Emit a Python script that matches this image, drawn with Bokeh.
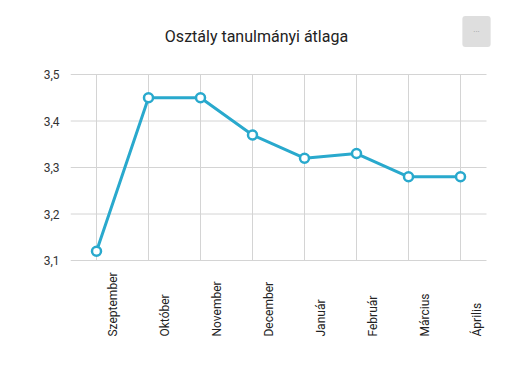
import math
from bokeh.plotting import figure
from bokeh.models import Range1d, FixedTicker, Label
from bokeh.embed import file_html
from bokeh.resources import INLINE

title_text = "Osztály tanulmányi átlaga"
months = ["Szeptember", "Október", "November", "December",
          "Január", "Február", "Március", "Április"]
averages = [3.12, 3.45, 3.45, 3.37, 3.32, 3.33, 3.28, 3.28]
y_ticks = [3.1, 3.2, 3.3, 3.4, 3.5]
y_tick_labels = ["3,1", "3,2", "3,3", "3,4", "3,5"]

FONT = "Roboto"
LINE_COLOR = "#29a9cd"
GRID_COLOR = "#d4d4d4"

# layout (pixels in the 496x355 canvas)
W, H = 496, 355
FL, FR, FT, FB = 70, 496, 10, 342          # frame edges
Y_TOP_PX, Y_BOT_PX = 74, 260               # where y_ticks[-1], y_ticks[0] sit
CAT_W = 52                                 # pixels per category

ppu = (Y_BOT_PX - Y_TOP_PX) / (y_ticks[-1] - y_ticks[0])
y_hi = y_ticks[-1] + (Y_TOP_PX - FT) / ppu
y_lo = y_ticks[0] - (FB - Y_BOT_PX) / ppu
x_hi = (FR - FL) / CAT_W


def px_x(px):
    return (px - FL) / CAT_W


def px_y(py):
    return y_ticks[-1] - (py - Y_TOP_PX) / ppu


n = len(months)
xs = [i + 0.5 for i in range(n)]

p = figure(width=W, height=H, output_backend="svg", toolbar_location=None,
           x_range=Range1d(0, x_hi), y_range=Range1d(y_lo, y_hi),
           min_border_left=FL, min_border_right=W - FR, min_border_top=FT,
           min_border_bottom=H - FB)
p.outline_line_color = None
p.background_fill_color = "white"
p.border_fill_color = "white"

p.xaxis.visible = False
p.xgrid.visible = False
p.ygrid.visible = False

ya = p.yaxis[0]
ya.ticker = FixedTicker(ticks=y_ticks)
ya.major_label_overrides = {t: l for t, l in zip(y_ticks, y_tick_labels)}
ya.axis_line_color = None
ya.major_tick_line_color = None
ya.minor_tick_line_color = None
ya.major_tick_out = 0
ya.major_label_standoff = 11
ya.major_label_text_font = FONT
ya.major_label_text_font_size = "12px"
ya.major_label_text_color = "#333333"

# grid lines limited to the plotting area (categories x value range)
p.segment(x0=[0] * len(y_ticks), y0=y_ticks, x1=[n] * len(y_ticks), y1=y_ticks,
          line_color=GRID_COLOR, line_width=1, level="underlay")
p.segment(x0=xs, y0=[y_ticks[0]] * n, x1=xs, y1=[y_ticks[-1]] * n,
          line_color=GRID_COLOR, line_width=1, level="underlay")

p.line(xs, averages, line_color=LINE_COLOR, line_width=3)
p.scatter(xs, averages, size=9, marker="circle", fill_color="white",
          line_color=LINE_COLOR, line_width=2.5)

# month labels: reading upwards, starting 76px below the value range
for x, m in zip(xs, months):
    p.add_layout(Label(x=x, y=px_y(336), text=m, angle=math.pi / 2,
                       x_offset=16, text_align="left", text_baseline="middle",
                       text_font=FONT, text_font_size="12px",
                       text_color="#222222"))

# title
p.add_layout(Label(x=px_x(256), y=px_y(36), text=title_text,
                   text_align="center", text_baseline="middle",
                   text_font=FONT, text_font_size="16px",
                   text_color="#222222"))

# menu button
p.add_layout(Label(x=px_x(476), y=px_y(31), text="···",
                   text_align="center", text_baseline="middle",
                   text_font=FONT, text_font_size="8px", text_color="#999999",
                   background_fill_color="#dedede", padding=11,
                   border_radius=3))

open("out.html", "w").write(file_html(p, INLINE))
